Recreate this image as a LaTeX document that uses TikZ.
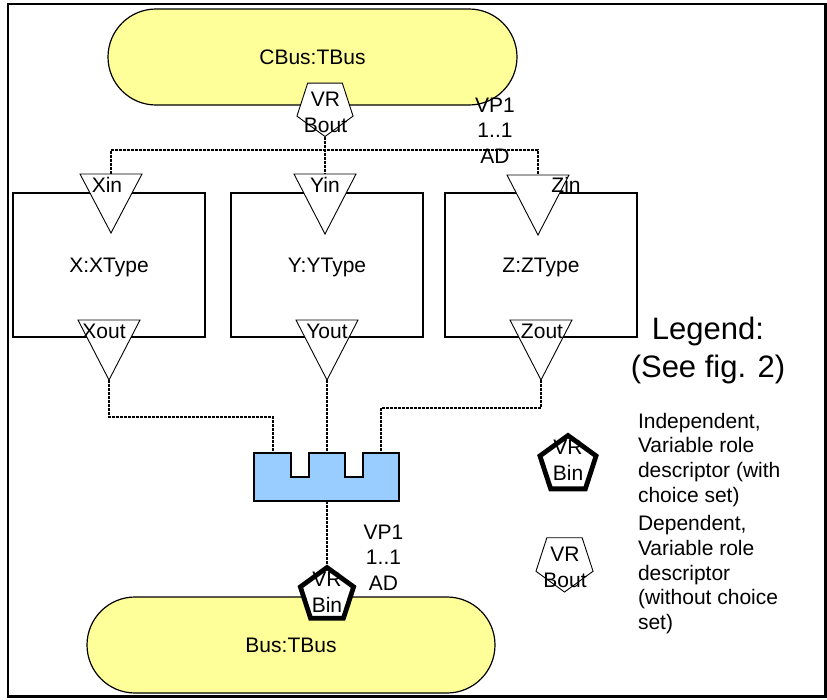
\documentclass[tikz,border=0pt]{standalone}
\usepackage{fontspec}
\setmainfont{Liberation Sans}
\usetikzlibrary{shapes.geometric}
\definecolor{busyellow}{HTML}{FFFF99}
\definecolor{combblue}{HTML}{99CCFF}

\begin{document}
\begin{tikzpicture}[x=1pt,y=-1pt,
  every node/.style={inner sep=0pt, outer sep=0pt},
  lbl/.style={font=\fontsize{21}{25.5}\selectfont},
  desc/.style={font=\fontsize{21}{24.8}\selectfont, align=left, anchor=west},
  bus/.style={draw, line width=1.2pt, fill=busyellow, rounded corners=48pt,
    minimum height=96pt, lbl, text depth=0pt},
  part/.style={draw, line width=1.2pt, minimum width=192pt, minimum height=144pt,
    lbl, text depth=0pt},
  port/.style={draw, line width=0.9pt, fill=white, line join=miter},
  indep/.style={regular polygon, regular polygon sides=5, draw, fill=white,
    line width=4.8pt},
  dep/.style={regular polygon, regular polygon sides=5, shape border rotate=180,
    draw, fill=white, line width=0.9pt},
  wire/.style={line width=1.1pt, dash pattern=on 3pt off 1pt},
]
\useasboundingbox (0,0) rectangle (827,699);
\draw[line width=2.5pt] (8,4) rectangle (825.5,696.7);

% buses
\node[bus, minimum width=409pt] (cbus) at (312.5,57) {CBus:TBus};
\node[bus, minimum width=408pt] (bus) at (291,645) {Bus:TBus};

% parts
\node[part] (x) at (109,265) {X:XType};
\node[part] (y) at (327,265) {Y:YType};
\node[part] (z) at (541,265) {Z:ZType};

% ports (inverted triangles)
\draw[port] (80,174) -- (142,174) -- (111,233) -- cycle;
\draw[port] (294,174) -- (356,174) -- (325,234) -- cycle;
\draw[port] (507,175) -- (569,175) -- (538,235) -- cycle;
\draw[port] (78,320) -- (140,320) -- (109,380) -- cycle;
\draw[port] (296,320) -- (358,320) -- (327,380) -- cycle;
\draw[port] (510,320) -- (572,320) -- (541,380) -- cycle;
\coordinate (xinT) at (111,174);
\coordinate (yinT) at (325,174);
\coordinate (zinT) at (538,175);
\coordinate (xoutB) at (109,380);
\coordinate (youtB) at (327,380);
\coordinate (zoutB) at (541,380);

\node[lbl, anchor=base] (xin) at (107,192) {Xin};
\node[lbl, anchor=base] (yin) at (325,192) {Yin};
\node[lbl, anchor=base] (zin) at (566,192) {Zin};
\node[lbl, anchor=base] (xout) at (104,338) {Xout};
\node[lbl, anchor=base] (yout) at (327,338) {Yout};
\node[lbl, anchor=base] (zout) at (542,338) {Zout};

% connector block
\draw[line width=1.2pt, fill=combblue] (254,453) -- (291,453) -- (291,477) -- (309,477)
  -- (309,453) -- (345,453) -- (345,477) -- (363,477) -- (363,453) -- (399,453)
  -- (399,501) -- (254,501) -- cycle;
\coordinate (combL) at (273,453);
\coordinate (combM) at (327,453);
\coordinate (combR) at (381,453);
\coordinate (combB) at (327,501);

% role descriptors
\node[dep, minimum size=59pt] (bout) at (325,107) {};
\node[lbl, align=center] (boutlbl) at (325.5,112.5) {VR\\Bout};
\node[indep, minimum size=56pt] (bin) at (327,595.5) {};
\node[lbl, align=center] (binlbl) at (327,592.3) {VR\\Bin};

% wires
\draw[wire] (bout.south) -- (yinT);
\draw[wire] (xinT) -- ++(0,-24) -| (zinT);
\draw[wire] (xoutB) -- ++(0,37) -| (combL);
\draw[wire] (youtB) -- (combM);
\draw[wire] (zoutB) -- ++(0,28) -| (combR);
\draw[wire] (combB) -- (bin.north);

% multiplicities
\node[lbl, align=center] (vptop) at (495,130.3) {VP1\\1..1\\AD};
\node[lbl, align=center] (vpbot) at (383.5,557.3) {VP1\\1..1\\AD};

% legend
\node[font=\fontsize{31}{38}\selectfont, align=center] (legend) at (708,350)
  {Legend:\\(See fig. 2)};
\node[indep, minimum size=59pt] (legbin) at (568,465) {};
\node[lbl, align=center] (legbinlbl) at (568,460.3) {VR\\Bin};
\node[dep, minimum size=60pt] (legbout) at (564.5,562) {};
\node[lbl, align=center] (legboutlbl) at (565,567.3) {VR\\Bout};
\node[desc] (indeptext) at (638,459.8)
  {Independent,\\Variable role\\descriptor (with\\choice set)};
\node[desc] (deptext) at (638,574.7)
  {Dependent,\\Variable role\\descriptor\\(without choice\\set)};
\end{tikzpicture}
\end{document}
